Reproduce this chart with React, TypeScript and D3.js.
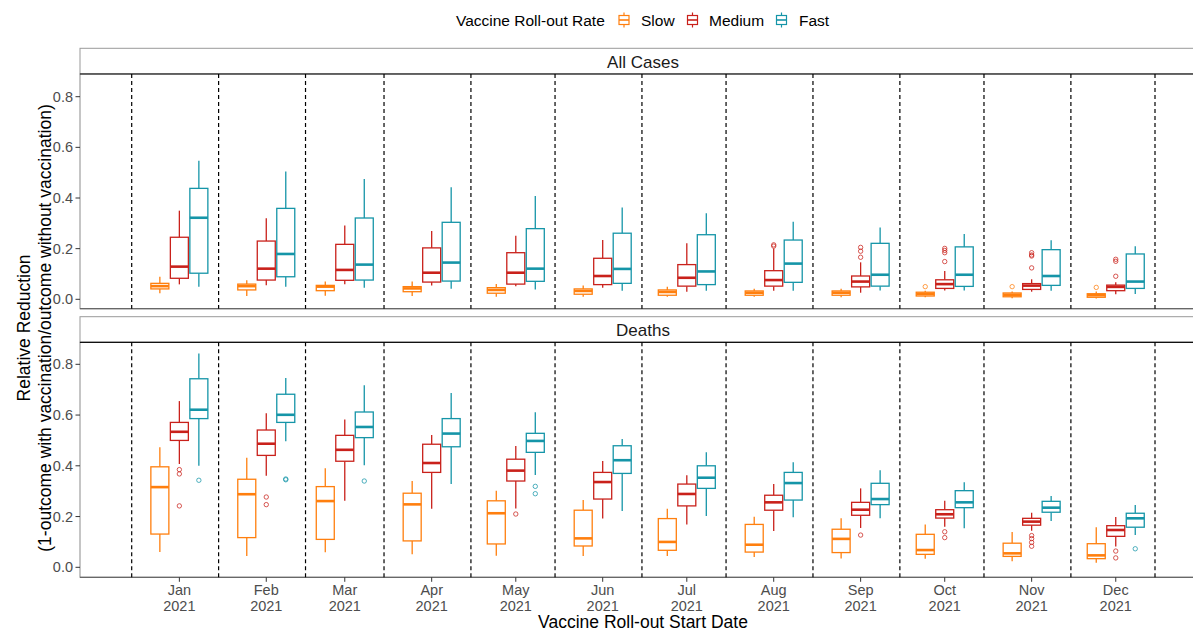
import React from "react";
import * as d3 from "d3";

const monthLabels = ["Jan", "Feb", "Mar", "Apr", "May", "Jun", "Jul", "Aug", "Sep", "Oct", "Nov", "Dec"];
const yearLabel = "2021";
const groupDates = ["2020-12-18", "2021-01-18", "2021-02-15", "2021-03-18", "2021-04-17", "2021-05-18", "2021-06-17", "2021-07-18", "2021-08-18", "2021-09-17", "2021-10-18", "2021-11-17"];
const dividerDates = ["2020-12-01", "2021-01-01", "2021-02-01", "2021-03-01", "2021-04-01", "2021-05-01", "2021-06-01", "2021-07-01", "2021-08-01", "2021-09-01", "2021-10-01", "2021-11-01", "2021-12-01"];
const seriesNames = ["Slow", "Medium", "Fast"];
const seriesColors = ["#FF7F0E", "#C9211B", "#1595A8"];
const yTicks = [0, 0.2, 0.4, 0.6, 0.8];
const panelTitles = ["All Cases", "Deaths"];

// [lower whisker, Q1, median, Q3, upper whisker]
const casesSlow = [
  [0.024, 0.041, 0.052, 0.063, 0.089], [0.013, 0.037, 0.052, 0.060, 0.075], [0.014, 0.034, 0.050, 0.055, 0.070],
  [0.013, 0.030, 0.043, 0.050, 0.070], [0.010, 0.024, 0.037, 0.046, 0.060], [0.010, 0.020, 0.033, 0.041, 0.054],
  [0.010, 0.016, 0.029, 0.037, 0.050], [0.010, 0.016, 0.026, 0.033, 0.042], [0.008, 0.016, 0.026, 0.033, 0.042],
  [0.008, 0.013, 0.021, 0.028, 0.034], [0.004, 0.010, 0.018, 0.025, 0.031], [0.003, 0.008, 0.016, 0.022, 0.031],
];
const casesSlowOut = [[], [], [], [], [], [], [], [], [], [0.050], [0.050], [0.047]];
const casesMedium = [
  [0.059, 0.083, 0.129, 0.245, 0.350], [0.055, 0.076, 0.121, 0.230, 0.320], [0.059, 0.075, 0.116, 0.217, 0.291],
  [0.054, 0.068, 0.105, 0.203, 0.270], [0.052, 0.060, 0.105, 0.184, 0.251], [0.046, 0.058, 0.092, 0.162, 0.234],
  [0.030, 0.052, 0.085, 0.137, 0.221], [0.034, 0.052, 0.076, 0.113, 0.201], [0.026, 0.049, 0.070, 0.092, 0.146],
  [0.035, 0.043, 0.060, 0.077, 0.112], [0.030, 0.039, 0.054, 0.062, 0.079], [0.020, 0.034, 0.049, 0.056, 0.067],
];
const casesMediumOut = [[], [], [], [], [], [], [], [0.210, 0.215], [0.205, 0.190, 0.166], [0.201, 0.193, 0.184, 0.149], [0.184, 0.175, 0.171, 0.124], [0.158, 0.150, 0.091]];
const casesFast = [
  [0.050, 0.103, 0.322, 0.438, 0.547], [0.050, 0.089, 0.179, 0.359, 0.505], [0.046, 0.076, 0.137, 0.321, 0.475],
  [0.042, 0.072, 0.145, 0.304, 0.442], [0.039, 0.071, 0.121, 0.279, 0.408], [0.034, 0.063, 0.120, 0.261, 0.362],
  [0.034, 0.058, 0.110, 0.255, 0.340], [0.034, 0.067, 0.141, 0.234, 0.306], [0.035, 0.052, 0.097, 0.221, 0.284],
  [0.035, 0.051, 0.097, 0.207, 0.258], [0.034, 0.055, 0.092, 0.196, 0.233], [0.021, 0.043, 0.070, 0.179, 0.209],
];
const casesFastOut = [[], [], [], [], [], [], [], [], [], [], [], []];

const deathsSlow = [
  [0.060, 0.131, 0.316, 0.396, 0.473], [0.045, 0.117, 0.288, 0.347, 0.432], [0.059, 0.110, 0.261, 0.318, 0.390],
  [0.051, 0.104, 0.248, 0.292, 0.340], [0.046, 0.092, 0.213, 0.262, 0.302], [0.045, 0.084, 0.114, 0.225, 0.265],
  [0.045, 0.067, 0.100, 0.192, 0.231], [0.041, 0.060, 0.089, 0.169, 0.199], [0.035, 0.058, 0.112, 0.150, 0.193],
  [0.034, 0.051, 0.068, 0.130, 0.169], [0.024, 0.043, 0.055, 0.095, 0.139], [0.018, 0.034, 0.047, 0.093, 0.158],
];
const deathsSlowOut = [[], [], [], [], [], [], [], [], [], [], [], []];
const deathsMedium = [
  [0.407, 0.500, 0.534, 0.571, 0.655], [0.361, 0.441, 0.487, 0.541, 0.607], [0.262, 0.418, 0.463, 0.520, 0.582],
  [0.231, 0.374, 0.411, 0.485, 0.521], [0.232, 0.340, 0.381, 0.426, 0.478], [0.192, 0.269, 0.336, 0.374, 0.419],
  [0.169, 0.242, 0.289, 0.328, 0.363], [0.143, 0.225, 0.256, 0.284, 0.328], [0.155, 0.205, 0.227, 0.256, 0.311],
  [0.160, 0.194, 0.209, 0.227, 0.262], [0.144, 0.166, 0.180, 0.193, 0.215], [0.082, 0.122, 0.147, 0.164, 0.198],
];
const deathsMediumOut = [[0.385, 0.368, 0.242], [0.277, 0.247], [], [], [0.210], [], [], [], [0.127], [0.140, 0.117], [0.125, 0.113, 0.098, 0.083], [0.064, 0.037]];
const deathsFast = [
  [0.400, 0.586, 0.621, 0.743, 0.843], [0.497, 0.571, 0.601, 0.682, 0.746], [0.402, 0.511, 0.553, 0.612, 0.717],
  [0.328, 0.475, 0.527, 0.586, 0.687], [0.364, 0.453, 0.498, 0.528, 0.611], [0.222, 0.370, 0.422, 0.479, 0.506],
  [0.202, 0.311, 0.353, 0.400, 0.453], [0.197, 0.265, 0.332, 0.374, 0.414], [0.193, 0.247, 0.269, 0.331, 0.382],
  [0.154, 0.235, 0.256, 0.302, 0.335], [0.182, 0.217, 0.235, 0.260, 0.281], [0.127, 0.158, 0.193, 0.213, 0.246],
];
const deathsFastOut = [[0.343], [0.345, 0.348], [0.340], [], [0.319, 0.290], [], [], [], [], [], [], [0.073]];

const panelSeries = [
  [casesSlow, casesMedium, casesFast],
  [deathsSlow, deathsMedium, deathsFast],
];
const panelOutliers = [
  [casesSlowOut, casesMediumOut, casesFastOut],
  [deathsSlowOut, deathsMediumOut, deathsFastOut],
];

const FONT = "'Liberation Sans', Arial, Helvetica, sans-serif";
const W = 1193;
const H = 632;
const panelLeft = 80;
const panelRight = 1206;
const panels = [
  { stripTop: 48.3, top: 74, bottom: 308.7, y0: 299.3, y8: 96.7 },
  { stripTop: 316.7, top: 342.3, bottom: 577.3, y0: 567.3, y8: 364.3 },
];
const dodge = 19.5;
const boxW = 18;

const parse = (s: string) => new Date(s + "T00:00:00Z");

export default function App() {
  const x = d3
    .scaleUtc()
    .domain([parse(dividerDates[0]), parse(dividerDates[dividerDates.length - 1])])
    .range([131.7, 1155]);

  const legendItems = [
    { key: 624, label: 641 },
    { key: 692.5, label: 709 },
    { key: 781.5, label: 799 },
  ];

  return (
    <svg width={W} height={H} style={{ position: "absolute", left: 0, top: 0, background: "#fff" }} fontFamily={FONT}>
      <rect x={0} y={0} width={W} height={H} fill="#fff" />
      {/* Legend */}
      <text x={456} y={20} fontSize={15.5} dominantBaseline="central" fill="#000">Vaccine Roll-out Rate</text>
      {seriesNames.map((name, i) => (
        <g key={name}>
          <line x1={legendItems[i].key} x2={legendItems[i].key} y1={12.5} y2={27.5} stroke={seriesColors[i]} strokeWidth={1.2} />
          <rect x={legendItems[i].key - 5} y={15.5} width={10} height={9} fill="#fff" stroke={seriesColors[i]} strokeWidth={1.2} />
          <line x1={legendItems[i].key - 5} x2={legendItems[i].key + 5} y1={20} y2={20} stroke={seriesColors[i]} strokeWidth={1.6} />
          <text x={legendItems[i].label} y={20} fontSize={15.5} dominantBaseline="central" fill="#000">{name}</text>
        </g>
      ))}

      {panels.map((p, pi) => {
        const y = d3.scaleLinear().domain([0, 0.8]).range([p.y0, p.y8]);
        return (
          <g key={pi}>
            {/* strip */}
            <rect x={panelLeft} y={p.stripTop} width={panelRight - panelLeft} height={p.top - p.stripTop} fill="#fff" stroke="#9a9a9a" strokeWidth={1} />
            <text x={(panelLeft + panelRight) / 2} y={(p.stripTop + p.top) / 2 + 1} fontSize={17} textAnchor="middle" dominantBaseline="central" fill="#1a1a1a">{panelTitles[pi]}</text>
            {/* panel border */}
            <rect x={panelLeft} y={p.top} width={panelRight - panelLeft} height={p.bottom - p.top} fill="#fff" stroke="#8c8c8c" strokeWidth={1} />
            <line x1={panelLeft} x2={panelRight} y1={p.top} y2={p.top} stroke="#111" strokeWidth={1.2} />
            <line x1={panelLeft} x2={panelRight} y1={p.bottom} y2={p.bottom} stroke="#555" strokeWidth={1.1} />
            {/* dashed dividers */}
            {dividerDates.map((d) => (
              <line key={d} x1={x(parse(d))} x2={x(parse(d))} y1={p.top} y2={p.bottom} stroke="#000" strokeWidth={1.2} strokeDasharray="4,3" />
            ))}
            {/* y axis */}
            {yTicks.map((t) => (
              <g key={t}>
                <line x1={panelLeft - 4.5} x2={panelLeft} y1={y(t)} y2={y(t)} stroke="#333" strokeWidth={1} />
                <text x={panelLeft - 7} y={y(t)} fontSize={14.5} textAnchor="end" dominantBaseline="central" fill="#4d4d4d">{t.toFixed(1)}</text>
              </g>
            ))}
            {/* boxes */}
            {panelSeries[pi].map((series, si) =>
              series.map((s, mi) => {
                const cx = x(parse(groupDates[mi])) + (si - 1) * dodge;
                const col = seriesColors[si];
                const [lo, q1, med, q3, hi] = s;
                return (
                  <g key={`${si}-${mi}`}>
                    <line x1={cx} x2={cx} y1={y(hi)} y2={y(q3)} stroke={col} strokeWidth={1.3} />
                    <line x1={cx} x2={cx} y1={y(q1)} y2={y(lo)} stroke={col} strokeWidth={1.3} />
                    <rect x={cx - boxW / 2} y={y(q3)} width={boxW} height={Math.max(0.5, y(q1) - y(q3))} fill="#fff" stroke={col} strokeWidth={1.3} />
                    <line x1={cx - boxW / 2} x2={cx + boxW / 2} y1={y(med)} y2={y(med)} stroke={col} strokeWidth={2.6} />
                    {panelOutliers[pi][si][mi].map((o, oi) => (
                      <circle key={oi} cx={cx} cy={y(o)} r={2.2} fill="none" stroke={col} strokeWidth={1} opacity={0.75} />
                    ))}
                  </g>
                );
              })
            )}
          </g>
        );
      })}

      {/* x axis ticks and labels */}
      {groupDates.map((d, i) => {
        const gx = x(parse(d));
        const yb = panels[1].bottom;
        return (
          <g key={d}>
            <line x1={gx} x2={gx} y1={yb} y2={yb + 4.5} stroke="#333" strokeWidth={1} />
            <text x={gx} y={yb + 17.5} fontSize={14.5} textAnchor="middle" fill="#4d4d4d">{monthLabels[i]}</text>
            <text x={gx} y={yb + 34} fontSize={14.5} textAnchor="middle" fill="#4d4d4d">{yearLabel}</text>
          </g>
        );
      })}

      {/* axis titles */}
      <text x={(panelLeft + panelRight) / 2} y={622} fontSize={17.5} textAnchor="middle" dominantBaseline="central" fill="#000">Vaccine Roll-out Start Date</text>
      <g transform="translate(24,328) rotate(-90)">
        <text x={0} y={0} fontSize={17.5} textAnchor="middle" dominantBaseline="central" fill="#000">Relative Reduction</text>
      </g>
      <g transform="translate(45,328) rotate(-90)">
        <text x={0} y={0} fontSize={17.5} textAnchor="middle" dominantBaseline="central" fill="#000">(1-outcome with vaccination/outcome without vaccination)</text>
      </g>
    </svg>
  );
}
